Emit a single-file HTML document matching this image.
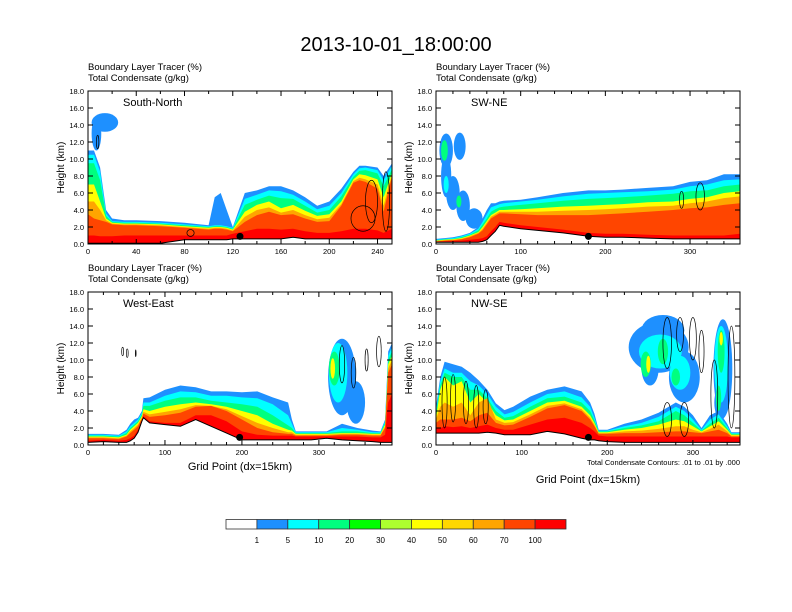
<!DOCTYPE html>
<html><head><meta charset="utf-8"><style>
html,body{margin:0;padding:0;background:#fff;width:792px;height:612px;overflow:hidden}
svg text{font-family:"Liberation Sans",sans-serif}
</style></head><body>
<svg id="fig" width="792" height="612" viewBox="0 0 792 612">
<text x="396" y="51" text-anchor="middle" font-size="20">2013-10-01_18:00:00</text>
</svg>
<script>
// ---------- data ----------
const levelColors = ['#1E90FF','#00FFFF','#00FF7F','#FFFF00','#FFA500','#FF4500','#FF0000'];
const colorbarColors = ['#FFFFFF','#1E90FF','#00FFFF','#00FF7F','#00FF00','#ADFF2F','#FFFF00','#FFD700','#FFA500','#FF4500','#FF0000'];
const colorbarLabels = ['1','5','10','20','30','40','50','60','70','100'];
const yTicks = [0,2,4,6,8,10,12,14,16,18];

const p1X = [0,5,10,15,20,30,40,60,80,100,105,110,115,120,130,140,150,160,170,180,190,200,210,220,225,230,240,245,252];
const p1Terrain = [.1,.1,.1,.1,.1,.1,.1,.1,.5,.5,.5,.5,.5,.6,.6,.6,.6,.6,.8,.6,.6,.6,.6,.6,.6,.6,.6,.6,.6];
const p1Blue = [11,11,9,4,3,2.8,2.8,2.7,2.5,2.2,5.5,6,4,2,6,6.3,6.8,6.8,6.3,5.5,4.5,5,6.5,8.5,9.2,9.2,9,8,9.5];
const p1Cyan = [10.5,10.5,8.5,3.6,2.7,2.6,2.6,2.5,2.3,2.1,2.2,2.2,2.1,1.9,5.3,5.8,6.3,6.2,5.8,5,4.1,4.5,6,8.2,8.9,9,8.7,7.5,9.2];
const p1Green = [9.5,9.5,7.5,3.3,2.6,2.5,2.5,2.4,2.2,2,2.1,2.1,2,1.8,4.6,5.2,5.7,5.4,5.3,4.5,3.7,4,5.6,7.9,8.6,8.7,8.3,6.8,8.8];
const p1Yellow = [7,7,5,3,2.5,2.4,2.4,2.3,2.1,1.9,2,2,1.9,1.7,3.8,4.6,5,4.2,4.6,3.9,3.3,3.5,5,7.6,8.2,8.1,7.6,5.5,8.4];
const p1Orange = [5,5,4,2.8,2.4,2.3,2.3,2.2,2,1.8,1.9,1.9,1.8,1.6,3.2,4,4.3,3.7,4,3.4,2.9,3.1,4.7,7.4,7.8,7.6,7,4.5,8.2];
const p1OrangeRed = [3.5,3,2.8,2.6,2.3,2.2,2.2,2.1,1.9,1.7,1.8,1.8,1.7,1.5,2.6,3.4,3.8,3.4,3.5,3,2.6,2.7,4.5,7.2,7.5,7.3,6.5,3.8,8];
const p1Red = [1,1,.9,.9,.9,1,1,1,1,1,1,1,1,1.2,1.5,1.8,1.8,1.7,1.8,1.5,1.3,1.3,1.5,1.8,1.8,1.8,1.6,1.3,1.8];
const p1Blobs = [[14,14.3,11,1.1,0],[7,13,4,2,0]];
const p1Lines = [[228,3,10,1.5],[235,5,5,2.5],[247,5,3,3.5],[85,1.3,3,0.4],[8,12,1,0.8]];

const p2X = [0,10,20,30,40,50,55,60,65,70,75,80,100,120,150,180,200,220,250,280,300,320,340,359];
const p2Terrain = [.2,.2,.2,.2,.2,.2,.3,.5,1,1.5,2.2,2.1,1.8,1.6,1.3,.9,.8,.8,.7,.6,.6,.6,.6,.6];
const p2Blue = [.6,.7,.8,1,1.3,2,3,4,4.8,4.8,5,5.1,5.2,5.5,6,6.3,6.3,6.4,6.6,6.8,7.3,7.5,8.2,8.2];
const p2Cyan = [.5,.6,.7,.9,1.2,1.8,2.6,3.5,4.3,4.5,4.7,4.8,5,5.2,5.6,5.9,6,6.1,6.2,6.4,6.8,7,7.5,7.6];
const p2Green = [.45,.55,.6,.8,1.1,1.6,2.3,3,3.8,4.1,4.3,4.4,4.6,4.8,5.1,5.3,5.4,5.5,5.7,5.9,6.2,6.3,6.8,7];
const p2Yellow = [.4,.5,.55,.7,1,1.4,2,2.7,3.4,3.7,4,4,4.1,4.2,4.4,4.5,4.6,4.7,4.9,5,5.3,5.5,6,6.2];
const p2Orange = [.35,.45,.5,.6,.9,1.3,1.8,2.5,3.2,3.5,3.8,3.8,3.8,3.8,3.9,4,4.1,4.2,4.4,4.5,4.8,5,5.4,5.6];
const p2OrangeRed = [.3,.4,.45,.55,.8,1.2,1.6,2.3,3,3.3,3.6,3.6,3.5,3.4,3.4,3.4,3.5,3.6,3.8,4,4.2,4.3,4.6,4.8];
const p2Red = [.25,.3,.35,.4,.5,.6,.7,.9,1.5,2,2.6,2.5,2.2,2,1.7,1.3,1.2,1.2,1.1,1,1,1,1,1.2];
const p2Blobs = [[12,11,8,2,0],[28,11.5,7,1.6,0],[12,8,6,2.5,0],[20,6,8,2,0],[32,4.5,8,1.8,0],[45,3,10,1.2,0],[10,11,4,1.2,2],[27,5,3,0.7,2],[12,7,3,1,1]];
const p2Lines = [[290,5.2,2.5,1],[312,5.6,5,1.6]];

const p3X = [0,20,40,50,55,60,65,70,72,80,100,120,140,160,180,200,220,240,260,265,270,290,310,330,350,370,380,386,390,395];
const p3Terrain = [.3,.4,.3,.3,.5,.8,1.5,2.8,3.2,2.6,2.4,2.2,3,2.2,1.4,.6,.6,.6,.6,.6,.6,.6,.8,.6,.5,.4,.3,.3,.3,.3];
const p3Blue = [1.3,1.3,1.2,1.8,2.5,3,3.2,4,5.5,5.6,6.5,7,6.8,6.3,6.3,6.2,6.3,5.6,5,3,1.6,1.6,1.6,2.5,2,1.7,1.6,3,11,12];
const p3Cyan = [1.2,1.2,1.1,1.6,2.2,2.6,3,3.8,5,5,5.8,6.3,6.2,5.8,5.8,5.6,5.5,4.8,3.5,2.5,1.5,1.5,1.5,2,1.8,1.5,1.5,2.8,10.5,11.5];
const p3Green = [1.1,1.1,1,1.4,2,2.4,2.8,3.6,4.6,4.6,5.2,5.6,5.6,5.2,5,4.8,4.5,3.5,2.3,2,1.4,1.4,1.4,1.6,1.6,1.4,1.4,2.6,10,11];
const p3Yellow = [1,1,.9,1.2,1.8,2.2,2.6,3.4,4.2,4,4.5,4.8,5,4.8,4.5,4,3.5,2.5,1.8,1.7,1.3,1.3,1.3,1.4,1.4,1.3,1.3,2.4,9.5,10.5];
const p3Orange = [.9,.9,.8,1.1,1.6,2,2.4,3.2,3.9,3.6,3.9,4.2,4.7,4.6,4.2,3.4,2.6,2,1.5,1.5,1.2,1.2,1.2,1.3,1.3,1.2,1.2,2.2,9,10];
const p3OrangeRed = [.8,.8,.7,1,1.4,1.8,2.2,3.1,3.7,3.3,3.5,3.8,4.5,4.6,4,3,2,1.5,1.3,1.3,1.1,1.1,1.1,1.2,1.2,1.1,1.1,2,8.5,9.5];
const p3Red = [.5,.6,.5,.6,.8,1.1,1.8,2.9,3.4,2.8,2.6,2.6,3.5,3.5,2.8,1.6,1.2,1.1,1.1,1.1,1,1,1,1,1,.9,.9,1.2,5,6];
const p3Blobs = [[330,8,18,4.5,0],[348,5,12,2.5,0],[325,8.5,12,3.5,1],[320,9,7,2,2],[318,9,3,1.2,3]];
const p3Lines = [[330,9.5,3.5,2.2],[345,8.5,3,1.8],[362,10,2,1.3],[378,11,3,1.8],[45,11,1.2,0.5],[51,10.8,1.2,0.5],[62,10.8,0.5,0.4]];

const p4X = [0,5,10,20,30,40,50,60,70,80,90,110,130,150,170,180,185,190,200,220,240,260,280,290,300,310,320,330,340,345,355];
const p4Terrain = [1.4,1.4,1.4,1.4,1.4,1.4,1.4,1.5,1.4,1.2,1.2,1.2,1.6,1.3,.8,.6,.6,.5,.4,.3,.3,.3,.3,.3,.3,.3,.3,.3,.3,.3,.3];
const p4Blue = [4.5,8,9.8,9.5,9.2,8.5,7.6,6.5,4.9,4.1,4.5,5.7,6.5,6.9,6.3,5,3.7,1.8,1.8,2.5,3,3.8,5,4.5,3.5,2,3.5,4,2.5,1.5,1.5];
const p4Cyan = [4,7.5,9,8.5,8.5,7.5,7,6,4.5,3.6,3.9,5,6,6.3,5.6,4.5,3.2,1.7,1.7,2.2,2.6,3.3,4.5,4,3,1.8,3,3.6,2.2,1.4,1.4];
const p4Green = [3.6,7,8.5,8,8,6.5,6.5,5.5,4,3.2,3.4,4.5,5.5,5.7,5,4,2.9,1.6,1.6,2,2.3,2.8,4,3.5,2.6,1.7,2.5,3.2,2,1.3,1.3];
const p4Yellow = [3.2,6.5,8,7,7.5,5,6,5,3.5,2.9,3,4,5,5.2,4.5,3.5,2.6,1.5,1.5,1.8,2,2.4,3,2.8,2.2,1.6,2.2,2.8,1.8,1.2,1.2];
const p4Orange = [3,4.5,5,4.5,5,3.5,5,5.5,3,2.6,2.7,3.6,4.6,4.9,4.2,3.2,2.4,1.4,1.4,1.6,1.7,1.9,2.2,2.2,1.8,1.5,1.9,2.4,1.6,1.1,1.1];
const p4OrangeRed = [2.6,3,3,3,3.2,2.8,3.5,3.8,2.6,2.3,2.4,3.3,4.3,4.7,4,3,2.2,1.3,1.3,1.4,1.4,1.5,1.6,1.6,1.5,1.4,1.6,1.8,1.4,1,1];
const p4Red = [2,2,2.2,2.1,2.2,2,2.2,2.4,2,1.8,1.8,2.4,3,3.2,2.6,2,1.6,1.1,1,1,1,1,1,1,1,1,1,1,1,.9,.9];
const p4Blobs = [[260,11.5,35,3,0],[265,13.5,25,1.8,0],[290,8,18,3,0],[250,9,10,2,0],[262,11,25,2,1],[285,8.5,12,2,1],[245,9.5,6,1.5,2],[265,11,6,1.5,2],[280,8,5,1,2],[248,9.5,2.5,1,3],
  [335,9,11,5.8,0],[333,5,8,2,0],[333,9.5,8,4.5,1],[333,11,4,2.5,2],[330,5.5,3,1.5,2],[333,12.5,2,0.8,3]];
const p4Lines = [[10,5,3,3],[20,5.5,3,2.8],[35,5,3,2.5],[47,4.5,3,2.5],[58,4.5,3,2],[270,12,5,3],[285,13,4,2],[300,12.5,4,2.5],[310,11,3,2.5],[270,3,5,2],[290,3,5,2],[325,6,4,4],[345,8,4,6]];

// ---------- drawing ----------
const NS='http://www.w3.org/2000/svg';
const svg=document.getElementById('fig');
function mk(tag,attrs,parent){const e=document.createElementNS(NS,tag);for(const k in attrs)e.setAttribute(k,attrs[k]);(parent||svg).appendChild(e);return e;}

const panels=[
 {id:'south-north',title:'South-North',x0:88,y0:91,xmax:252,xs:p1X,ter:p1Terrain,layers:[p1Blue,p1Cyan,p1Green,p1Yellow,p1Orange,p1OrangeRed,p1Red],blobs:p1Blobs,lines:p1Lines,xt:[0,40,80,120,160,200,240],minor:20,dot:126},
 {id:'sw-ne',title:'SW-NE',x0:436,y0:91,xmax:359,xs:p2X,ter:p2Terrain,layers:[p2Blue,p2Cyan,p2Green,p2Yellow,p2Orange,p2OrangeRed,p2Red],blobs:p2Blobs,lines:p2Lines,xt:[0,100,200,300],minor:20,dot:180},
 {id:'west-east',title:'West-East',x0:88,y0:292,xmax:395,xs:p3X,ter:p3Terrain,layers:[p3Blue,p3Cyan,p3Green,p3Yellow,p3Orange,p3OrangeRed,p3Red],blobs:p3Blobs,lines:p3Lines,xt:[0,100,200,300],minor:20,dot:197},
 {id:'nw-se',title:'NW-SE',x0:436,y0:292,xmax:355,xs:p4X,ter:p4Terrain,layers:[p4Blue,p4Cyan,p4Green,p4Yellow,p4Orange,p4OrangeRed,p4Red],blobs:p4Blobs,lines:p4Lines,xt:[0,100,200,300],minor:20,dot:178}
];
const W=304,H=153;

panels.forEach((p,pi)=>{
  const g=mk('g',{});
  
  
  const sx=v=>p.x0+v/p.xmax*W;
  const sy=v=>p.y0+H-v/18*H;
  const cid='clip'+pi;
  const cp=mk('clipPath',{id:cid},g);mk('rect',{x:p.x0,y:p.y0,width:W,height:H},cp);
  const plot=mk('g',{'clip-path':'url(#'+cid+')'},g);
  const t1=mk('text',{x:p.x0,y:p.y0-21,'font-size':9.5},g);t1.textContent='Boundary Layer Tracer   (%)';
  
  const t2=mk('text',{x:p.x0,y:p.y0-10,'font-size':9.5},g);t2.textContent='Total Condensate   (g/kg)';
  
  // blobs first (upper clouds), then layers
  p.blobs.forEach(b=>{
    const e=mk('ellipse',{cx:sx(b[0]),cy:sy(b[1]),rx:b[2]/p.xmax*W,ry:b[3]/18*H,fill:levelColors[b[4]]},plot);
    
    
  });
  p.layers.forEach((arr,li)=>{
    let d='';
    p.xs.forEach((x,i)=>{d+=(i?'L':'M')+sx(x).toFixed(1)+','+sy(arr[i]).toFixed(1);});
    for(let i=p.xs.length-1;i>=0;i--)d+='L'+sx(p.xs[i]).toFixed(1)+','+sy(p.ter[i]).toFixed(1);
    const e=mk('path',{d:d+'Z',fill:levelColors[li]},plot);
    
    
  });
  let td='';
  p.xs.forEach((x,i)=>{td+=(i?'L':'M')+sx(x).toFixed(1)+','+sy(p.ter[i]).toFixed(1);});
  const te=mk('path',{d:td,fill:'none',stroke:'#000','stroke-width':1},plot);
  
  
  p.lines.forEach(l=>{
    const e=mk('ellipse',{cx:sx(l[0]),cy:sy(l[1]),rx:l[2]/p.xmax*W,ry:l[3]/18*H,fill:'none',stroke:'#000','stroke-width':0.7},plot);
    
    
  });
  const dt=mk('circle',{cx:sx(p.dot),cy:sy(0.9),r:3.5,fill:'#000'},plot);
  
  
  mk('rect',{x:p.x0,y:p.y0,width:W,height:H,fill:'none',stroke:'#000','stroke-width':1},g);
  const lab=mk('text',{x:p.x0+35,y:p.y0+15,'font-size':11},g);lab.textContent=p.title;
  
  yTicks.forEach(v=>{
    const y=sy(v);
    mk('line',{x1:p.x0,x2:p.x0+5,y1:y,y2:y,stroke:'#000'},g);
    mk('line',{x1:p.x0+W,x2:p.x0+W-5,y1:y,y2:y,stroke:'#000'},g);
    const t=mk('text',{x:p.x0-4,y:y+3,'font-size':7.5,'text-anchor':'end'},g);t.textContent=v.toFixed(1);
    
  });
  for(let v=0;v<=p.xmax;v+=p.minor){
    const x=sx(v),big=p.xt.includes(v);
    mk('line',{x1:x,x2:x,y1:p.y0+H,y2:p.y0+H-(big?5:3),stroke:'#000'},g);
    mk('line',{x1:x,x2:x,y1:p.y0,y2:p.y0+(big?5:3),stroke:'#000'},g);
  }
  p.xt.forEach(v=>{
    const t=mk('text',{x:sx(v),y:p.y0+H+10,'font-size':7.5,'text-anchor':'middle'},g);t.textContent=v;
    
  });
  const yl=mk('text',{x:0,y:0,'font-size':10,'text-anchor':'middle',transform:'translate('+(p.x0-24)+','+(p.y0+H/2)+') rotate(-90)'},g);
  yl.textContent='Height (km)';
  
});

let t=mk('text',{x:240,y:470,'font-size':11,'text-anchor':'middle'});t.textContent='Grid Point (dx=15km)';

t=mk('text',{x:588,y:483,'font-size':11,'text-anchor':'middle'});t.textContent='Grid Point (dx=15km)';

t=mk('text',{x:740,y:465,'font-size':7.5,'text-anchor':'end'});t.textContent='Total Condensate Contours: .01 to .01 by .000';


const cb=mk('g',{});


const cbx=226,cbw=340/colorbarColors.length;
colorbarColors.forEach((c,i)=>{
  const r=mk('rect',{x:cbx+i*cbw,y:519.5,width:cbw,height:9.5,fill:c,stroke:'#333','stroke-width':0.8},cb);
  
  
});
colorbarLabels.forEach((l,i)=>{
  const tx=mk('text',{x:cbx+(i+1)*cbw,y:543,'font-size':8,'text-anchor':'middle'},cb);tx.textContent=l;
  
});
</script>
</body></html>
